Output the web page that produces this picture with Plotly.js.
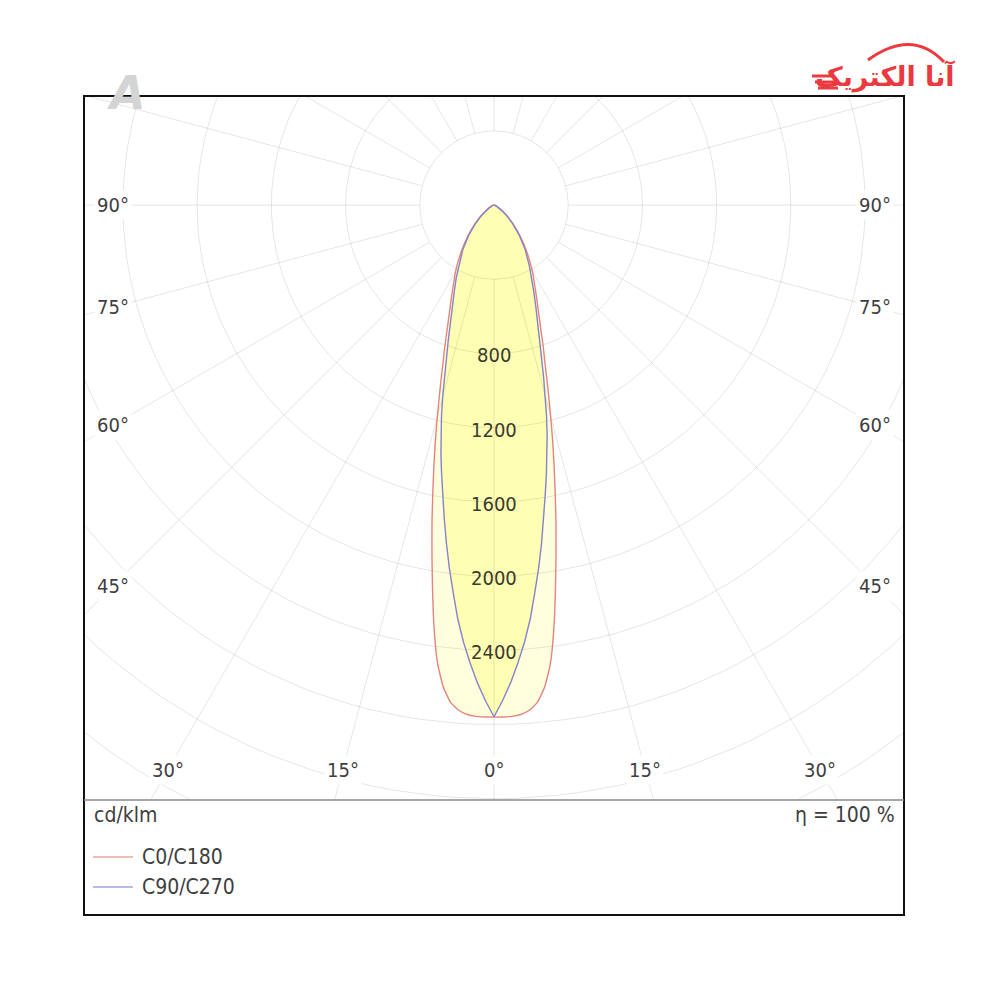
<!DOCTYPE html>
<html>
<head>
<meta charset="utf-8">
<script src="https://cdn.plot.ly/plotly-3.0.1.min.js"></script>
<style>html,body{margin:0;padding:0;background:#fff;}#chart{width:1000px;height:1000px;}</style>
</head>
<body>
<div id="chart"></div>
<script>
// ---- data (cd/klm), gamma angle from nadir in degrees ----
const gammaAngles = [0,1,2,3,4,5,6,7,8,9,10,11,12,13,14,15,16,17,18,19,20,22.5,25,27.5,30,35,40,45,50,55,60,70,80,90];
const c0c180 = [2760,2760,2758,2750,2730,2690,2612,2492,2315,2115,1925,1752,1587,1440,1305,1180,1068,972,886,819,754,628,540,469,415,309,220,148,95,53,30,10,3,0];
const c90c270 = [2758,2671,2576,2470,2361,2240,2102,1973,1842,1713,1589,1480,1376,1274,1170,1068,972,884,812,750,698,588,504,440,382,293,212,143,90,52,30,10,3,0];
const seriesNames = ["C0/C180", "C90/C270"];
const ringValues = [400,800,1200,1600,2000,2400,2800,3200,3600,4000,4400];
const ringLabels = [800,1200,1600,2000,2400];
const spokeAngles = [0,15,30,45,60,75,90,105,120,135,150,165,180,195,210,225,240,255,270,285,300,315,330,345];
const bottomAngleLabels = [0,15,30];
const sideAngleLabels = [45,60,75,90];
const unitText = "cd/klm";
const effText = "η = 100 %";

const FONT = "DejaVu Sans Condensed, DejaVu Sans";
const D = Math.PI/180;

function curveXY(vals){
  const xs=[], ys=[];
  for(let i=gammaAngles.length-1;i>=0;i--){const a=gammaAngles[i]*D; xs.push(-vals[i]*Math.sin(a)); ys.push(-vals[i]*Math.cos(a));}
  for(let i=1;i<gammaAngles.length;i++){const a=gammaAngles[i]*D; xs.push(vals[i]*Math.sin(a)); ys.push(-vals[i]*Math.cos(a));}
  return {x:xs,y:ys};
}
const redC = curveXY(c0c180), blueC = curveXY(c90c270);

// grid
const gx=[], gy=[];
ringValues.forEach(r=>{
  for(let t=0;t<=360;t+=2){gx.push(r*Math.sin(t*D)); gy.push(r*Math.cos(t*D));}
  gx.push(null); gy.push(null);
});
spokeAngles.forEach(a=>{
  gx.push(400*Math.sin(a*D), 6000*Math.sin(a*D), null);
  gy.push(-400*Math.cos(a*D), -6000*Math.cos(a*D), null);
});

const RED='#e4847e', BLUE='#8682cc';
const redLine = {width:0,shape:'spline',smoothing:0.5};
const traces = [
  {x:redC.x,y:redC.y,mode:'lines',fill:'toself',fillcolor:'#ffffde',line:redLine,hoverinfo:'skip'},
  {x:blueC.x,y:blueC.y,mode:'lines',fill:'toself',fillcolor:'#ffffb4',line:{width:0},hoverinfo:'skip'},
  {x:gx,y:gy,mode:'lines',line:{color:'rgba(0,0,0,0.1)',width:1},hoverinfo:'skip'},
  {x:redC.x,y:redC.y,mode:'lines',name:seriesNames[0],line:{color:RED,width:1.4,shape:'spline',smoothing:0.5}},
  {x:blueC.x,y:blueC.y,mode:'lines',name:seriesNames[1],line:{color:BLUE,width:1.4}}
];

// pixel -> paper helpers for the plot area (84..904 x 96..800)
const PL=84, PR=904, PT=96, PB=800;
const px = v => (v-PL)/(PR-PL);
const py = v => (PB-v)/(PB-PT);

const TXT = '#3e3e3e';
const annotations = [];
ringLabels.forEach(v=>annotations.push({x:0,y:-v,xref:'x',yref:'y',yshift:-2,text:String(v),showarrow:false,font:{family:FONT,size:20,color:'#3a3a30'}}));
const SIDE_X = 2054, BOTTOM_Y = -3045;
bottomAngleLabels.forEach(a=>{
  const sides = a===0?[1]:[-1,1];
  sides.forEach(s=>annotations.push({x:s*(-BOTTOM_Y)*Math.tan(a*D),y:BOTTOM_Y,xref:'x',yref:'y',text:a+'°',showarrow:false,bgcolor:'#ffffff',borderpad:2,font:{family:FONT,size:20,color:TXT}}));
});
sideAngleLabels.forEach(a=>{
  [-1,1].forEach(s=>annotations.push({x:s*SIDE_X,y:-SIDE_X/Math.tan(a*D),xref:'x',yref:'y',text:a+'°',showarrow:false,bgcolor:'#ffffff',borderpad:2,font:{family:FONT,size:20,color:TXT}}));
});
annotations.push({x:px(92),y:py(815),xref:'paper',yref:'paper',xanchor:'left',yanchor:'middle',text:unitText,showarrow:false,font:{family:FONT,size:21,color:TXT}});
annotations.push({x:px(897),y:py(815),xref:'paper',yref:'paper',xanchor:'right',yanchor:'middle',text:effText,showarrow:false,font:{family:FONT,size:21,color:TXT}});
annotations.push({x:px(140),y:py(857),xref:'paper',yref:'paper',xanchor:'left',yanchor:'middle',text:seriesNames[0],showarrow:false,font:{family:FONT,size:21,color:TXT}});
annotations.push({x:px(140),y:py(887),xref:'paper',yref:'paper',xanchor:'left',yanchor:'middle',text:seriesNames[1],showarrow:false,font:{family:FONT,size:21,color:TXT}});
// logos
annotations.push({x:px(885),y:py(76),xref:'paper',yref:'paper',xanchor:'center',yanchor:'middle',text:'<b>آنا الکتریک</b>',showarrow:false,font:{family:'DejaVu Sans',size:27,color:'#ea3a40'}});
annotations.push({x:px(126),y:py(93),xref:'paper',yref:'paper',xanchor:'center',yanchor:'middle',text:'<b><i>A</i></b>',showarrow:false,font:{family:'DejaVu Sans',size:46,color:'#d4d4d4'}});

const shapes = [
  {type:'rect',xref:'paper',yref:'paper',x0:0,x1:1,y0:py(915),y1:1,line:{color:'#111',width:2},layer:'above'},
  {type:'line',xref:'paper',yref:'paper',x0:0,x1:1,y0:0,y1:0,line:{color:'#8a8a8a',width:1.5},layer:'above'},
  {type:'line',xref:'paper',yref:'paper',x0:px(93),x1:px(133),y0:py(857),y1:py(857),line:{color:'#e8a4a2',width:1.6}},
  {type:'line',xref:'paper',yref:'paper',x0:px(93),x1:px(133),y0:py(887),y1:py(887),line:{color:'#a6a4dc',width:1.6}},
  // logo swoosh and speed lines
  {type:'path',xref:'paper',yref:'paper',path:`M ${px(868)},${py(60)} Q ${px(912)},${py(28)} ${px(944)},${py(62)}`,line:{color:'#ea3a40',width:3}},
  {type:'line',xref:'paper',yref:'paper',x0:px(812),x1:px(834),y0:py(76),y1:py(76),line:{color:'#ea3a40',width:3}},
  {type:'line',xref:'paper',yref:'paper',x0:px(815),x1:px(836),y0:py(82),y1:py(82),line:{color:'#ea3a40',width:3}},
  {type:'line',xref:'paper',yref:'paper',x0:px(818),x1:px(838),y0:py(88),y1:py(88),line:{color:'#ea3a40',width:3}}
];

const layout = {
  width:1000,height:1000,
  margin:{l:PL,r:1000-PR,t:PT,b:1000-PB,pad:0},
  paper_bgcolor:'#ffffff',plot_bgcolor:'#ffffff',
  showlegend:false,
  xaxis:{range:[-2210,2210],visible:false,fixedrange:true},
  yaxis:{range:[-3207,588],visible:false,fixedrange:true},
  annotations:annotations,
  shapes:shapes,
  hovermode:false
};
Plotly.newPlot('chart',traces,layout,{displayModeBar:false,staticPlot:true});
</script>
</body>
</html>
